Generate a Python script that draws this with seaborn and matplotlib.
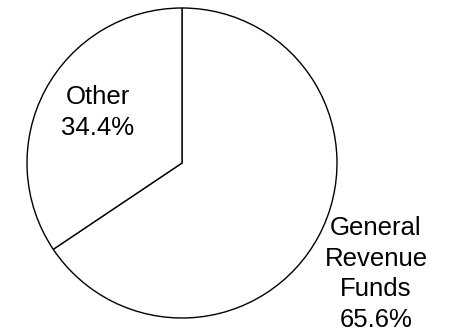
import matplotlib
matplotlib.use("Agg")
import matplotlib.pyplot as plt
import seaborn as sns

categories = ["General\nRevenue\nFunds", "Other"]
shares = [65.6, 34.4]
label_texts = ["General\nRevenue\nFunds\n65.6%", "Other\n34.4%"]

sns.set_theme(style="white")
plt.rcParams["font.family"] = ["Liberation Sans", "DejaVu Sans"]

W, H = 457, 334
fig = plt.figure(figsize=(W / 100, H / 100), dpi=100)
cx, cy, r = 182, 163, 155
ax = fig.add_axes([(cx - r) / W, (H - cy - r) / H, 2 * r / W, 2 * r / H])

wedges, _ = ax.pie(shares, startangle=90, counterclock=False,
                   colors=["white", "white"],
                   wedgeprops=dict(edgecolor="black", linewidth=1.0))
ax.set_xlim(-1, 1)
ax.set_ylim(-1, 1)
ax.set_aspect("equal")
ax.axis("off")

# label anchor: last-line baseline, as fraction of radius from pie centre
label_pos = [(1.252, -1.058), (-0.542, 0.181)]
for txt, (x, y) in zip(label_texts, label_pos):
    ax.text(x, y, txt, ha="center", va="baseline", fontsize=18.5,
            linespacing=1.35, color="black", clip_on=False)

fig.savefig("out.png", dpi=100, facecolor="white")
